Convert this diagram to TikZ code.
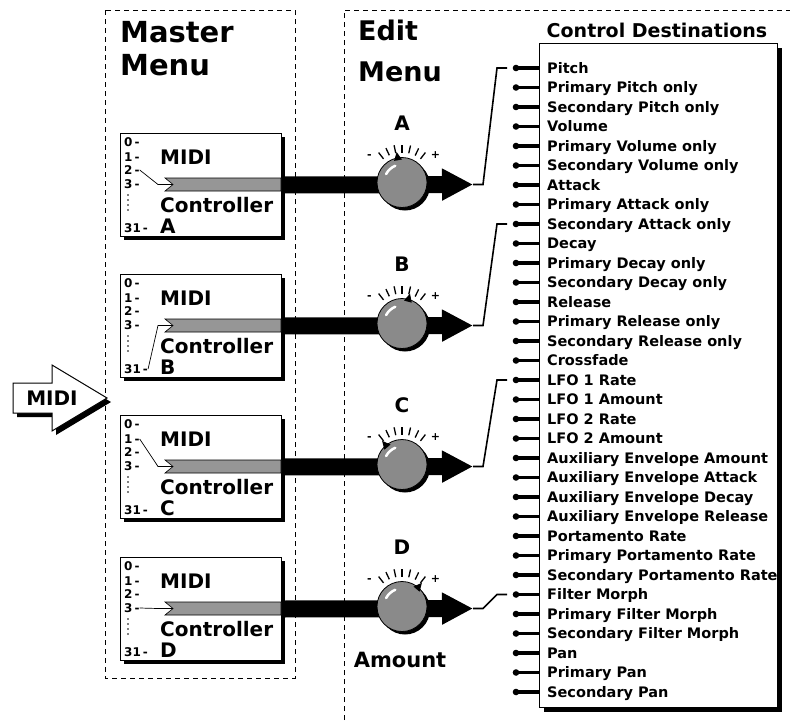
\documentclass[tikz,border=0pt]{standalone}
\usepackage{fontspec}
\setmainfont{DejaVu Sans}
\usepackage{tikz}
\usetikzlibrary{arrows.meta,positioning,calc,shadows}
\definecolor{bargray}{RGB}{150,150,150}
\definecolor{knobgray}{RGB}{138,138,138}

\begin{document}
\begin{tikzpicture}[x=1pt,y=-1pt,font=\bfseries]
  \tikzstyle{menuframe}=[dash pattern=on 5pt off 4pt,line width=0.8pt]
  \tikzstyle{heading}=[anchor=base west,inner sep=0pt,font=\fontsize{29}{29}\selectfont\bfseries]
  \tikzstyle{ctrlbox}=[rectangle,draw,line width=1pt,fill=white,anchor=north west,minimum width=161pt,minimum height=103pt,drop shadow={shadow xshift=3pt,shadow yshift=-3pt,fill=black,opacity=1}]
  \tikzstyle{destbox}=[rectangle,draw,line width=1pt,fill=white,anchor=north west,minimum width=238pt,minimum height=664pt,drop shadow={shadow xshift=4pt,shadow yshift=-4pt,fill=black,opacity=1}]
  \tikzstyle{knob}=[circle,draw,line width=0.8pt,fill=knobgray,minimum size=50pt,inner sep=0pt,drop shadow={shadow xshift=3pt,shadow yshift=-3pt,fill=black,opacity=1}]
  \tikzstyle{numlbl}=[anchor=west,inner sep=0pt,font=\fontsize{12}{12}\selectfont\bfseries]
  \tikzstyle{midilbl}=[anchor=base west,inner sep=0pt,font=\fontsize{20}{20}\selectfont\bfseries]
  \tikzstyle{destlbl}=[anchor=base west,inner sep=0pt,font=\fontsize{14.5}{14.5}\selectfont\bfseries]
  \tikzstyle{signlbl}=[inner sep=0pt,font=\fontsize{11}{11}\selectfont\bfseries]

  \useasboundingbox (0,0) rectangle (790,726);

  % menu frames
  \draw[menuframe] (105,10) rectangle (295,678);
  \draw[menuframe] (344,720) -- (344,10) -- (790,10);
  \node[heading] (master1) at (120,42) {Master};
  \node[heading] (master2) at (120,75) {Menu};
  \node[heading,font=\fontsize{27}{27}\selectfont\bfseries] (edit1) at (358,40) {Edit};
  \node[heading,font=\fontsize{27}{27}\selectfont\bfseries] (edit2) at (358,81) {Menu};

  % destination list
  \node[destbox] (destbox) at (539,43) {};
  \node[font=\fontsize{19}{19}\selectfont\bfseries,inner sep=0pt] (desttitle) at (657,30) {Control Destinations};
  \foreach \dest [count=\i from 0] in {Pitch, Primary Pitch only, Secondary Pitch only, Volume,
      Primary Volume only, Secondary Volume only, Attack, Primary Attack only, Secondary Attack only,
      Decay, Primary Decay only, Secondary Decay only, Release, Primary Release only,
      Secondary Release only, Crossfade, LFO 1 Rate, LFO 1 Amount, LFO 2 Rate, LFO 2 Amount,
      Auxiliary Envelope Amount, Auxiliary Envelope Attack, Auxiliary Envelope Decay,
      Auxiliary Envelope Release, Portamento Rate, Primary Portamento Rate,
      Secondary Portamento Rate, Filter Morph, Primary Filter Morph, Secondary Filter Morph,
      Pan, Primary Pan, Secondary Pan}{
    \coordinate (pin\i) at (516,68+19.5*\i);
    \draw[line width=3.5pt] (pin\i) -- (pin\i -| destbox.west);
    \fill (pin\i) circle (3.3pt);
    \node[destlbl] (dest\i) at (547,73.2+19.5*\i) {\dest};
  }

  % controller channels
  \foreach \ch/\ty/\sel/\ang/\row in {A/133/2/100/0, B/274/31/75/8, C/415/1/130/16, D/557/3/50/27}{
    \pgfmathsetmacro\cy{\ty+51.5}
    \node[ctrlbox] (box\ch) at (120,\ty) {};
    \coordinate (tip\ch) at (473,\cy);
    \draw[line width=17pt,-{Triangle[length=31pt,width=30pt]}] (box\ch.east) -- (tip\ch);
    \foreach \nr/\dy in {0/9,1/24,2/37,3/51,31/95}
      \node[numlbl] (num\ch\nr) at (124,\ty+\dy) {\nr\,-};
    \foreach \dd in {62,67,72,77}
      \fill (128,\ty+\dd) circle (0.9pt);
    \node[midilbl] (midi\ch) at (160,\ty+31) {MIDI};
    \node[midilbl] (ctl\ch) at (160,\ty+79) {Controller};
    \node[midilbl] (let\ch) at (160,\ty+100) {\ch};
    \filldraw[fill=bargray,line width=0.6pt] (165,\cy-6.5) -- (281,\cy-6.5) -- (281,\cy+6.5)
      -- (165,\cy+6.5) -- (173,\cy) -- cycle;
    \coordinate (notch\ch) at (173,\cy);
    \draw[line width=0.7pt] (num\ch\sel.east) -- (158,\cy) -- (notch\ch);
    % knob
    \node[knob] (knob\ch) at (402,\cy-2) {};
    \draw[white,line width=2.5pt,line cap=round] ($(knob\ch)+(-112:18)$) arc[start angle=112,end angle=152,radius=18pt];
    \foreach \t in {128,115,102,90,77,64,52}
      \draw[line width=1.3pt] ($(knob\ch)+(-\t:30)$) -- ($(knob\ch)+(-\t:38)$);
    \fill ($(knob\ch)+(-\ang-10:23)$) -- ($(knob\ch)+(-\ang:31)$) -- ($(knob\ch)+(-\ang+10:23)$) -- cycle;
    \node[signlbl] (minus\ch) at ($(knob\ch)+(-141:42)$) {-};
    \node[signlbl] (plus\ch) at ($(knob\ch)+(-39:43)$) {+};
    \node[midilbl,anchor=center] (name\ch) at (402,\cy-61) {\ch};
    % switch to destination
    \draw[line width=1.6pt] (tip\ch) -- ++(10,0) -- ($(pin\row)+(-19,0)$) -- ($(pin\row)+(-9,0)$);
  }
  \node[midilbl,anchor=center,font=\fontsize{21}{21}\selectfont\bfseries] (amount) at (400,660) {Amount};

  % MIDI input
  \filldraw[fill=white,line width=1pt,drop shadow={shadow xshift=4pt,shadow yshift=-4pt,fill=black,opacity=1}]
    (13,383) -- (52,383) -- (52,365) -- (107,398) -- (52,431) -- (52,413) -- (13,413) -- cycle;
  \node[midilbl,anchor=center] (midiin) at (52,398) {MIDI};
\end{tikzpicture}
\end{document}
